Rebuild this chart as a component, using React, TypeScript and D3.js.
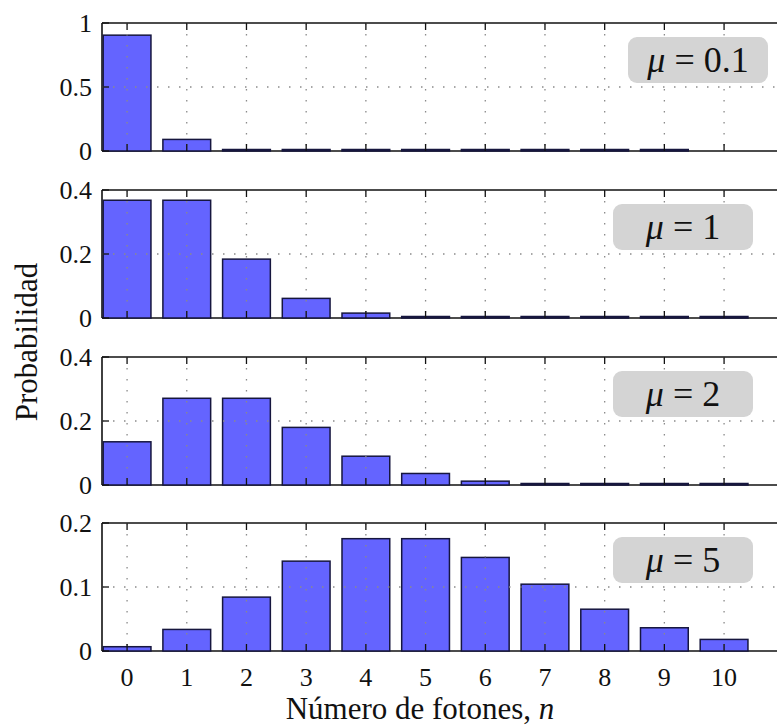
import React from 'react';
import * as d3 from 'd3';

// photon number n
const photonNumbers = [0, 1, 2, 3, 4, 5, 6, 7, 8, 9, 10];

// mean photon number of each panel
const muLabels = ['0.1', '1', '2', '5'];

// probabilities
const probMu01 = [0.905, 0.0905, 0.0045, 0.00015, 0.000004, 0.0000001, 0.000000002, 0.00000000003, 0.0000000000004, 0.000000000000004, 0];
const probMu1 = [0.368, 0.368, 0.184, 0.0613, 0.0153, 0.0031, 0.0005, 0.00007, 0.00001, 0.000001, 0.0000001];
const probMu2 = [0.135, 0.271, 0.271, 0.18, 0.09, 0.036, 0.012, 0.0034, 0.0009, 0.0002, 0.00004];
const probMu5 = [0.0067, 0.0337, 0.0842, 0.1404, 0.1755, 0.1755, 0.1462, 0.1044, 0.0653, 0.0363, 0.0181];

const seriesList = [probMu01, probMu1, probMu2, probMu5];

// y axis limits and ticks of each panel
const yMaxes = [1, 0.4, 0.4, 0.2];
const yTickValues = [[0, 0.5, 1], [0, 0.2, 0.4], [0, 0.2, 0.4], [0, 0.1, 0.2]];

const W = 777;
const H = 727;
const left = 102;
const panelTops = [23, 190, 357, 523];
const panelH = 128;
const serif = {
  fontFamily:
    "'Liberation Serif', 'DejaVu Serif', 'Noto Serif', 'Times New Roman', Times, FreeSerif, Georgia, serif",
};

const x = d3.scaleLinear().domain([-0.42, 11.3]).range([left, left + 11.72 * 59.7]);
const barW = x(0.4) - x(-0.4);

const Panel = ({ i }: { i: number }) => {
  const top = panelTops[i];
  const y = d3.scaleLinear().domain([0, yMaxes[i]]).range([top + panelH, top]);
  const data = seriesList[i];
  const ticks = yTickValues[i];
  const mid = ticks[1];
  const boxX = i === 0 ? 628 : 613;
  const boxY = top + 14;

  return (
    <g>
      {/* frame */}
      <line x1={left} x2={W} y1={top} y2={top} stroke="#111" strokeWidth={1.6} />
      <line x1={left} x2={W} y1={top + panelH} y2={top + panelH} stroke="#111" strokeWidth={1.6} />
      <line x1={left} x2={left} y1={top} y2={top + panelH} stroke="#111" strokeWidth={1.6} />
      {/* bars */}
      {photonNumbers.map((n, k) =>
        data[k] > 0 ? (
          <rect
            key={n}
            x={x(n) - barW / 2}
            y={Math.min(y(data[k]), y(0) - 1.5)}
            width={barW}
            height={Math.max(1.5, y(0) - y(data[k]))}
            fill="#6464ff"
            stroke="#16163e"
            strokeWidth={1.5}
          />
        ) : null
      )}
      {/* dotted grid */}
      {photonNumbers.concat([11]).map(n => (
        <line key={'g' + n} x1={x(n)} x2={x(n)} y1={top} y2={top + panelH}
          stroke="#8a8a8a" strokeWidth={1.3} strokeDasharray="1.5,9.5" />
      ))}
      <line x1={left} x2={W} y1={y(mid)} y2={y(mid)}
        stroke="#8a8a8a" strokeWidth={1.3} strokeDasharray="1.5,9.5" />
      {/* legend box */}
      <rect x={boxX} y={boxY} width={140} height={46} rx={9} fill="#d4d4d4" />
      <text x={boxX + 70} y={boxY + 35} textAnchor="middle" style={serif} fontSize={36} fill="#111">
        <tspan fontStyle="italic">μ</tspan>
        <tspan> = {muLabels[i]}</tspan>
      </text>
      {/* x ticks top and bottom */}
      {photonNumbers.concat([11]).map(n => (
        <g key={'t' + n}>
          <line x1={x(n)} x2={x(n)} y1={top} y2={top + 7} stroke="#111" strokeWidth={1.3} />
          <line x1={x(n)} x2={x(n)} y1={top + panelH} y2={top + panelH - 7} stroke="#111" strokeWidth={1.3} />
        </g>
      ))}
      {/* y ticks */}
      {ticks.map(t => (
        <g key={'y' + t}>
          <line x1={left} x2={left + 7} y1={y(t)} y2={y(t)} stroke="#111" strokeWidth={1.3} />
          <text x={92} y={y(t) + 9} textAnchor="end" style={serif} fontSize={26} fill="#111">
            {String(t)}
          </text>
        </g>
      ))}
      {/* x tick labels on last panel */}
      {i === seriesList.length - 1 &&
        photonNumbers.map(n => (
          <text key={'xl' + n} x={x(n)} y={top + panelH + 35} textAnchor="middle"
            style={serif} fontSize={26} fill="#111">
            {n}
          </text>
        ))}
    </g>
  );
};

export default function App() {
  return (
    <svg width={W} height={H} style={{ position: 'absolute', left: 0, top: 0, background: '#fff' }}>
      {seriesList.map((_, i) => (
        <Panel key={i} i={i} />
      ))}
      <text transform={`translate(37,342) rotate(-90)`} textAnchor="middle" style={serif} fontSize={31} fill="#111">
        Probabilidad
      </text>
      <text x={420} y={719} textAnchor="middle" style={serif} fontSize={31} fill="#111">
        Número de fotones, <tspan fontStyle="italic">n</tspan>
      </text>
    </svg>
  );
}
